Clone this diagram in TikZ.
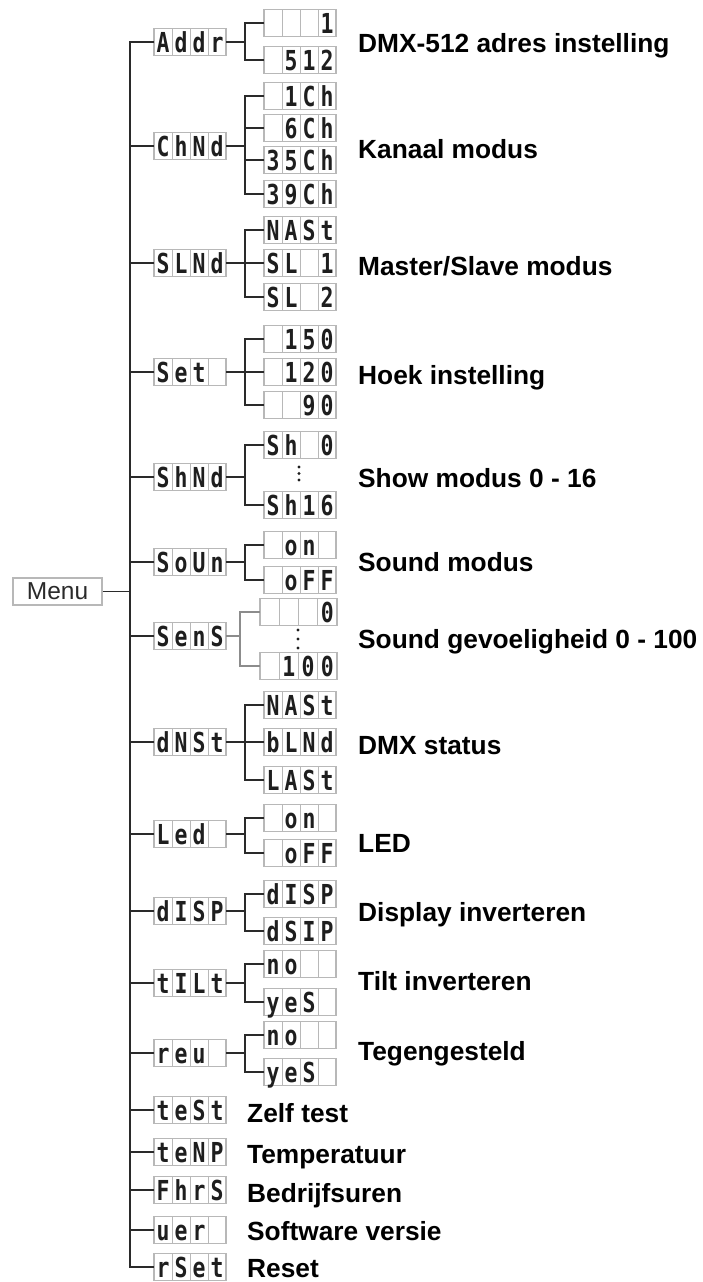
\documentclass[tikz,border=0pt]{standalone}
\usepackage{fontspec}
\setmainfont{Liberation Sans}
\newfontfamily\segfont[FakeStretch=0.78]{DejaVu Sans Mono}
\usetikzlibrary{calc}
\definecolor{cellgray}{HTML}{B8B8B8}
\definecolor{linec}{HTML}{2A2A2A}
\definecolor{segc}{HTML}{1E1E1E}
\definecolor{lightline}{HTML}{8C8C8C}
\tikzset{
 dbox/.style={draw=cellgray, line width=1.2pt, fill=white, minimum height=27pt, inner sep=0pt, outer sep=0pt},
 dchar/.style={font=\segfont\bfseries\fontsize{27.5}{27.5}\selectfont, text=segc, inner sep=0pt, anchor=base},
 conn/.style={draw=linec, line width=1.6pt},
 lconn/.style={draw=lightline, line width=1.4pt},
 lbl/.style={font=\bfseries\fontsize{26.3}{26.3}\selectfont, text=black, anchor=base west, inner sep=0pt},
 dotm/.style={fill=segc},
}
\newcommand{\dbx}[7][72]{%
 \node[dbox, minimum width=#1pt] (#2) at (#3) {};
 \pgfmathsetmacro\cw{#1/4}
 \foreach \k in {1,2,3} {\draw[draw=cellgray, line width=1pt] ($(#2.north west)+(\k*\cw,0)$) -- ($(#2.south west)+(\k*\cw,0)$);}
 \node[dchar] at ($(#2.west)+(0.5*\cw,10)$) {#4};
 \node[dchar] at ($(#2.west)+(1.5*\cw,10)$) {#5};
 \node[dchar] at ($(#2.west)+(2.5*\cw,10)$) {#6};
 \node[dchar] at ($(#2.west)+(3.5*\cw,10)$) {#7};
}
\begin{document}
\begin{tikzpicture}[x=1pt,y=-1pt]
\useasboundingbox (0,0) rectangle (703,1282);
\coordinate (tr) at (130,0);
\coordinate (sj) at (245,0);
\coordinate (sk) at (240,0);

\node[draw=cellgray, line width=1.2pt, minimum width=89pt, minimum height=27pt, inner sep=0pt, font=\fontsize{24.5}{24.5}\selectfont, text=linec] (menu) at (57.5,591.5) {Menu};

% main boxes
\dbx{addr}{190,42}{A}{d}{d}{r}
\dbx{chnd}{190,146}{C}{h}{N}{d}
\dbx{slnd}{190,263}{S}{L}{N}{d}
\dbx{set}{190,372}{S}{e}{t}{}
\dbx{shnd}{190,477}{S}{h}{N}{d}
\dbx{soun}{190,562}{S}{o}{U}{n}
\dbx{sens}{190,636}{S}{e}{n}{S}
\dbx{dnst}{190,742}{d}{N}{S}{t}
\dbx{led}{190,834}{L}{e}{d}{}
\dbx{disp}{190,911}{d}{I}{S}{P}
\dbx{tilt}{190,983}{t}{I}{L}{t}
\dbx{rev}{190,1053}{r}{e}{u}{}
\dbx{test}{190,1110}{t}{e}{S}{t}
\dbx{temp}{190,1152}{t}{e}{N}{P}
\dbx{fhrs}{190,1190}{F}{h}{r}{S}
\dbx{ver}{190,1230}{u}{e}{r}{}
\dbx{rset}{190,1267}{r}{S}{e}{t}

% sub boxes
\dbx{a1}{300,23}{}{}{}{1}
\dbx{a2}{300,60}{}{5}{1}{2}
\dbx{c1}{300,96}{}{1}{C}{h}
\dbx{c2}{300,128}{}{6}{C}{h}
\dbx{c3}{300,160}{3}{5}{C}{h}
\dbx{c4}{300,194}{3}{9}{C}{h}
\dbx{s1}{300,230}{N}{A}{S}{t}
\dbx{s2}{300,263}{S}{L}{}{1}
\dbx{s3}{300,297}{S}{L}{}{2}
\dbx{e1}{300,339}{}{1}{5}{0}
\dbx{e2}{300,372}{}{1}{2}{0}
\dbx{e3}{300,405}{}{}{9}{0}
\dbx{h1}{300,445}{S}{h}{}{0}
\dbx{h2}{300,505}{S}{h}{1}{6}
\dbx{o1}{300,545}{}{o}{n}{}
\dbx{o2}{300,580}{}{o}{F}{F}
\dbx[77]{n1}{298.5,612}{}{}{}{0}
\dbx[77]{n2}{298.5,666}{}{1}{0}{0}
\dbx{d1}{300,705}{N}{A}{S}{t}
\dbx{d2}{300,742}{b}{L}{N}{d}
\dbx{d3}{300,780}{L}{A}{S}{t}
\dbx{l1}{300,818}{}{o}{n}{}
\dbx{l2}{300,853}{}{o}{F}{F}
\dbx{p1}{300,894}{d}{I}{S}{P}
\dbx{p2}{300,931}{d}{S}{I}{P}
\dbx{t1}{300,964}{n}{o}{}{}
\dbx{t2}{300,1002}{y}{e}{S}{}
\dbx{r1}{300,1035}{n}{o}{}{}
\dbx{r2}{300,1072}{y}{e}{S}{}

% dots
\foreach \yy in {467,473.5,480} \fill[dotm] (299,\yy) circle (1.7);
\foreach \yy in {630,639,648} \fill[dotm] (298,\yy) circle (1.7);

% main trunk
\draw[conn] (addr.west) -- (addr.west -| tr) -- (rset.west -| tr) -- (rset.west);
\foreach \n in {chnd,slnd,set,shnd,soun,sens,dnst,led,disp,tilt,rev,test,temp,fhrs,ver}
  \draw[conn] (\n.west) -- (\n.west -| tr);
\draw[conn] (menu.east) -- (menu.east -| tr);

% sub trees
\draw[conn] (addr.east) -- (addr.east -| sj);
\draw[conn] (a1.west) -| (addr.east -| sj);
\draw[conn] (a2.west) -| (addr.east -| sj);

\draw[conn] (chnd.east) -- (chnd.east -| sj);
\draw[conn] (c1.west) -| (chnd.east -| sj);
\draw[conn] (c4.west) -| (chnd.east -| sj);
\draw[conn] (c2.west) -- (c2.west -| sj);
\draw[conn] (c3.west) -- (c3.west -| sj);

\draw[conn] (slnd.east) -- (s2.west);
\draw[conn] (s1.west) -| (slnd.east -| sj);
\draw[conn] (s3.west) -| (slnd.east -| sj);

\draw[conn] (set.east) -- (e2.west);
\draw[conn] (e1.west) -| (set.east -| sj);
\draw[conn] (e3.west) -| (set.east -| sj);

\draw[conn] (shnd.east) -- (shnd.east -| sj);
\draw[conn] (h1.west) -| (shnd.east -| sj);
\draw[conn] (h2.west) -| (shnd.east -| sj);

\draw[conn] (soun.east) -- (soun.east -| sj);
\draw[conn] (o1.west) -| (soun.east -| sj);
\draw[conn] (o2.west) -| (soun.east -| sj);

\draw[lconn] (sens.east) -- (sens.east -| sk);
\draw[lconn] (n1.west) -| (sens.east -| sk);
\draw[lconn] (n2.west) -| (sens.east -| sk);

\draw[conn] (dnst.east) -- (d2.west);
\draw[conn] (d1.west) -| (dnst.east -| sj);
\draw[conn] (d3.west) -| (dnst.east -| sj);

\draw[conn] (led.east) -- (led.east -| sj);
\draw[conn] (l1.west) -| (led.east -| sj);
\draw[conn] (l2.west) -| (led.east -| sj);

\draw[conn] (disp.east) -- (disp.east -| sj);
\draw[conn] (p1.west) -| (disp.east -| sj);
\draw[conn] (p2.west) -| (disp.east -| sj);

\draw[conn] (tilt.east) -- (tilt.east -| sj);
\draw[conn] (t1.west) -| (tilt.east -| sj);
\draw[conn] (t2.west) -| (tilt.east -| sj);

\draw[conn] (rev.east) -- (rev.east -| sj);
\draw[conn] (r1.west) -| (rev.east -| sj);
\draw[conn] (r2.west) -| (rev.east -| sj);

% labels
\node[lbl] (L1) at (358,52) {DMX-512 adres instelling};
\node[lbl] (L2) at (358,158) {Kanaal modus};
\node[lbl] (L3) at (358,275) {Master/Slave modus};
\node[lbl] (L4) at (358,384) {Hoek instelling};
\node[lbl] (L5) at (358,487) {Show modus 0 - 16};
\node[lbl] (L6) at (358,571) {Sound modus};
\node[lbl] (L7) at (358,648) {Sound gevoeligheid 0 - 100};
\node[lbl] (L8) at (358,754) {DMX status};
\node[lbl] (L9) at (358,852) {LED};
\node[lbl] (L10) at (358,921) {Display inverteren};
\node[lbl] (L11) at (358,990) {Tilt inverteren};
\node[lbl] (L12) at (358,1060) {Tegengesteld};
\node[lbl] (L13) at (247,1122) {Zelf test};
\node[lbl] (L14) at (247,1163) {Temperatuur};
\node[lbl] (L15) at (247,1202) {Bedrijfsuren};
\node[lbl] (L16) at (247,1240) {Software versie};
\node[lbl] (L17) at (247,1277) {Reset};
\end{tikzpicture}
\end{document}
